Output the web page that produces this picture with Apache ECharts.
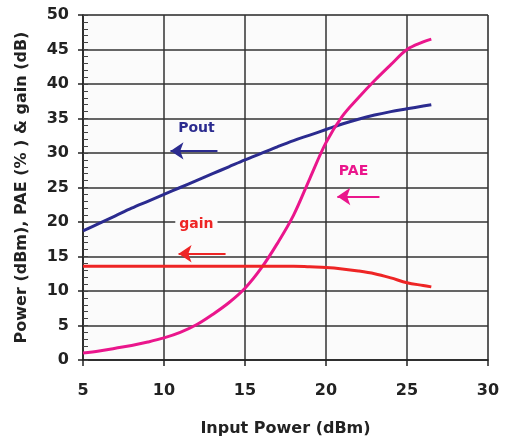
<!DOCTYPE html>
<html>
<head>
<meta charset="utf-8">
<script src="https://cdn.jsdelivr.net/npm/echarts@6/dist/echarts.min.js"></script>
<style>
  html, body { margin: 0; padding: 0; background: #fff; }
  #main { width: 505px; height: 442px; }
</style>
</head>
<body>
<div id="main"></div>
<script>
// 数据
var inputPower = [5, 6, 7, 8, 9, 10, 11, 12, 13, 14, 15, 16, 17, 18, 19, 20, 21, 22, 23, 24, 25, 26, 26.5];
var poutValues = [18.7, 19.8, 20.9, 22.0, 23.0, 24.0, 25.0, 26.0, 27.0, 28.0, 29.0, 29.95, 30.9, 31.8, 32.6, 33.4, 34.2, 34.9, 35.5, 36.0, 36.4, 36.8, 37.0];
var paeValues = [1.0, 1.3, 1.7, 2.1, 2.6, 3.2, 4.0, 5.1, 6.6, 8.3, 10.4, 13.3, 16.9, 21.0, 26.3, 31.5, 35.3, 38.0, 40.5, 42.8, 45.0, 46.1, 46.5];
var gainValues = [13.6, 13.6, 13.6, 13.6, 13.6, 13.6, 13.6, 13.6, 13.6, 13.6, 13.6, 13.6, 13.6, 13.6, 13.5, 13.4, 13.2, 12.9, 12.5, 11.9, 11.2, 10.8, 10.6];

// annotation anchors [x, y] in data units
var poutArrow = [[13.3, 30.3], [10.4, 30.3]];
var poutLabel = [12.0, 33.6];
var paeArrow = [[23.3, 23.7], [20.7, 23.7]];
var paeLabel = [21.7, 27.4];
var gainArrow = [[13.8, 15.4], [10.9, 15.4]];
var gainLabel = [12.0, 19.6];

var xTicks = [5, 10, 15, 20, 25, 30];

var FONT = 'DejaVu Sans';

function pairs(xs, ys) {
    return xs.map(function (x, i) { return [x, ys[i]]; });
}

function mkSeries(name, values, color, arrow, label) {
    return {
        name: name,
        type: 'line',
        smooth: 0.35,
        showSymbol: false,
        data: pairs(inputPower, values),
        lineStyle: { color: color, width: 3 },
        itemStyle: { color: color },
        z: 5,
        markLine: {
            silent: true,
            symbol: ['none', 'arrow'],
            symbolSize: [13, 13],
            label: { show: false },
            lineStyle: { color: color, width: 2, type: 'solid' },
            data: [[{ coord: arrow[0] }, { coord: arrow[1] }]]
        },
        markPoint: {
            silent: true,
            symbol: 'rect',
            symbolSize: 1,
            itemStyle: { color: 'rgba(0,0,0,0)' },
            label: {
                show: true,
                position: 'inside',
                formatter: name,
                color: color,
                fontFamily: FONT,
                fontWeight: 'bold',
                fontSize: 14,
                backgroundColor: '#fbfbfb',
                padding: [1, 4]
            },
            data: [{ coord: label }]
        }
    };
}

var myChart = echarts.init(document.getElementById('main'));

var option = {
    animation: false,
    backgroundColor: '#ffffff',
    grid: {
        left: 83, right: 17, top: 15, bottom: 79,
        show: true,
        backgroundColor: '#fbfbfb',
        borderColor: '#aaaaaa',
        borderWidth: 1
    },
    xAxis: {
        type: 'value',
        min: 5, max: 30, interval: 5,
        name: 'Input Power (dBm)',
        nameLocation: 'middle',
        nameGap: 61,
        nameTextStyle: { fontFamily: FONT, fontWeight: 'bold', fontSize: 16, color: '#222' },
        axisLine: { lineStyle: { color: '#222', width: 1.5 } },
        axisTick: { show: true, length: 6, lineStyle: { color: '#222', width: 1.5 } },
        axisLabel: {
            margin: 23, fontFamily: FONT, fontWeight: 'bold', fontSize: 16, color: '#222',
            formatter: function (v) { return xTicks.indexOf(v) >= 0 ? v : ''; }
        },
        splitLine: { show: true, lineStyle: { color: '#333', width: 1.5 } }
    },
    yAxis: [{
        type: 'value',
        min: 0, max: 50, interval: 5,
        name: 'Power (dBm), PAE (% ) & gain (dB)',
        nameLocation: 'middle',
        nameGap: 53,
        nameTextStyle: { fontFamily: FONT, fontWeight: 'bold', fontSize: 16, color: '#222' },
        axisLine: { show: true, lineStyle: { color: '#222', width: 1.5 } },
        axisTick: { show: true, length: 5, lineStyle: { color: '#222', width: 1.5 } },
        axisLabel: { margin: 14, fontFamily: FONT, fontWeight: 'bold', fontSize: 16, color: '#222' },
        splitLine: { show: true, lineStyle: { color: '#333', width: 1.5 } }
    }, {
        // minor ticks inside the plot
        type: 'value',
        position: 'left',
        min: 0, max: 50, interval: 1,
        axisLine: { show: false },
        axisTick: { show: true, inside: true, length: 5, lineStyle: { color: '#444', width: 1 } },
        axisLabel: { show: false },
        splitLine: { show: false }
    }],
    series: [
        mkSeries('Pout', poutValues, '#2b2b8f', poutArrow, poutLabel),
        mkSeries('PAE', paeValues, '#ea168c', paeArrow, paeLabel),
        mkSeries('gain', gainValues, '#ee2525', gainArrow, gainLabel)
    ]
};

myChart.setOption(option);
</script>
</body>
</html>
